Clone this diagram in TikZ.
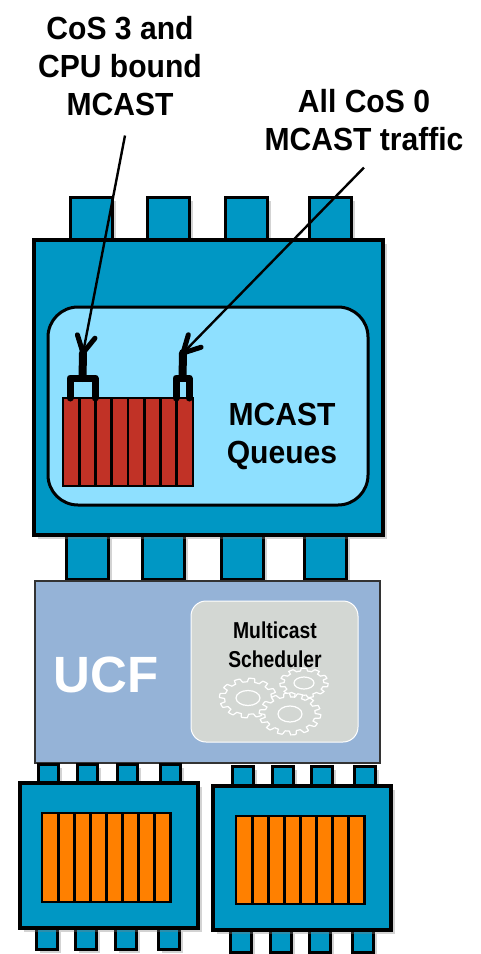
\documentclass[tikz,border=0pt]{standalone}
\usepackage{fontspec}
\setmainfont{Liberation Sans}
\newfontfamily\labelfont[FakeStretch=0.94]{Liberation Sans}
\newfontfamily\schedfont[FakeStretch=0.84]{Liberation Sans}
\usepackage{tikz}
\usetikzlibrary{calc,shadows}

\definecolor{chipblue}{RGB}{0,151,196}
\definecolor{qback}{RGB}{142,224,255}
\definecolor{qred}{RGB}{193,50,38}
\definecolor{qorange}{RGB}{255,128,0}
\definecolor{ucfblue}{RGB}{149,179,215}
\definecolor{schedgray}{RGB}{211,215,211}

% cog outline: centre x, centre y, radius x, radius y, number of teeth
\newcommand\cogwheel[5]{%
  \filldraw[cog] plot[domain=0:360,samples=241,variable=\t]
    ({#1+(#3)*(1+0.1*min(1,max(-1,3*sin(#5*\t))))*cos(\t)},
     {#2+(#4)*(1+0.1*min(1,max(-1,3*sin(#5*\t))))*sin(\t)}) -- cycle;}

\begin{document}
\begin{tikzpicture}[x=1pt,y=-1pt,
  chip/.style={draw=black,line width=3.4pt,fill=chipblue,
    drop shadow={shadow xshift=4pt,shadow yshift=-4pt,opacity=.35}},
  pin/.style={chip,line width=3pt},
  redslot/.style={draw=black,line width=2.8pt,fill=qred},
  orslot/.style={draw=black,line width=2.8pt,fill=qorange},
  handle/.style={line width=7pt,line cap=round,line join=round},
  ptr/.style={line width=2.4pt},
  barb/.style={line width=5pt,line cap=round,line join=round},
  lbl/.style={font=\labelfont\bfseries\fontsize{32}{38}\selectfont,align=center,inner sep=0pt},
  cog/.style={draw=white,line width=1.2pt,fill=schedgray}]
\useasboundingbox (0,0) rectangle (481,954);

% labels on top (base = last line)
\node[lbl,anchor=base] (cosThree) at (120,115) {CoS 3 and\\CPU bound\\MCAST};
\node[lbl,anchor=base] (cosZero) at (364,150) {All CoS 0\\MCAST traffic};

% big chip with its pins
\foreach \x in {70,147,225,309} \draw[pin] (\x,197) rectangle ++(42,43);
\foreach \x in {66,142,221,304} \draw[pin] (\x,535) rectangle ++(42,44);
\draw[chip] (34,240) rectangle (383,535);
\draw[draw=black,line width=3pt,fill=qback,rounded corners=30pt] (48,307) rectangle (368,505);

% red queue block
\foreach \i in {0,...,7} \draw[redslot] (63+\i*16.25,398) rectangle ++(16.25,88);

% handles on the queue
\coordinate (tipA) at (83,353);
\coordinate (tipB) at (183,353);
\draw[handle] (70,398) |- (95,378) -- (95,398);
\draw[handle] (176,398) |- (189,378) -- (189,398);
\draw[handle,line width=8pt] (82.5,378) -- (tipA);
\draw[handle,line width=8pt] (182.5,378) -- (tipB);

\node[lbl,anchor=base] (mcq) at (282,463) {MCAST\\Queues};

% arrows from the labels, heads drawn as two heavy barbs
\coordinate (srcA) at ([xshift=5pt,yshift=-20pt]cosThree.south);
\coordinate (srcB) at ([yshift=-17pt]cosZero.south);
\draw[ptr] (srcA) -- (tipA);
\draw[ptr] (srcB) -- (tipB);
\draw[barb] ($(tipA)!19pt!28:(srcA)$) -- (tipA) -- ($(tipA)!19pt!-28:(srcA)$);
\draw[barb] ($(tipB)!19pt!28:(srcB)$) -- (tipB) -- ($(tipB)!19pt!-28:(srcB)$);

% UCF block
\draw[draw=black!80,line width=1.6pt,fill=ucfblue] (35,581) rectangle (380,763);
\node[anchor=base,text=white,font=\bfseries\fontsize{51}{51}\selectfont,inner sep=0pt] (ucf) at (106,692) {UCF};
\draw[draw=white,line width=1pt,fill=schedgray,rounded corners=15pt] (191,601) rectangle (358,742);
\cogwheel{248}{698}{26}{18}{12}
\cogwheel{304}{683}{22}{13.5}{11}
\cogwheel{290}{714}{28}{19}{14}
\draw[white,line width=1.2pt] (248,698) ellipse (12 and 7.5);
\draw[white,line width=1.2pt] (304,683) ellipse (10 and 6);
\draw[white,line width=1.2pt] (290,714) ellipse (12 and 8);
\node[anchor=base,align=center,inner sep=0pt,font=\schedfont\bfseries\fontsize{23}{29}\selectfont] (sched) at (275,667) {Multicast\\Scheduler};

% two small chips below
\foreach \x in {38,77,117,160} {
  \draw[pin] (\x,764) rectangle ++(20,19);
  \draw[pin] (\x-2,928) rectangle ++(21,21);
}
\draw[chip] (20,783) rectangle (198,928);
\foreach \i in {0,...,7} \draw[orslot] (42+\i*16.1,813) rectangle ++(16.1,89);

\foreach \x in {232,272,311,354} {
  \draw[pin] (\x,766) rectangle ++(21,20);
  \draw[pin] (\x-2,930) rectangle ++(21,22);
}
\draw[chip] (213,786) rectangle (391,930);
\foreach \i in {0,...,7} \draw[orslot] (236+\i*16.1,816) rectangle ++(16.1,88);
\end{tikzpicture}
\end{document}
